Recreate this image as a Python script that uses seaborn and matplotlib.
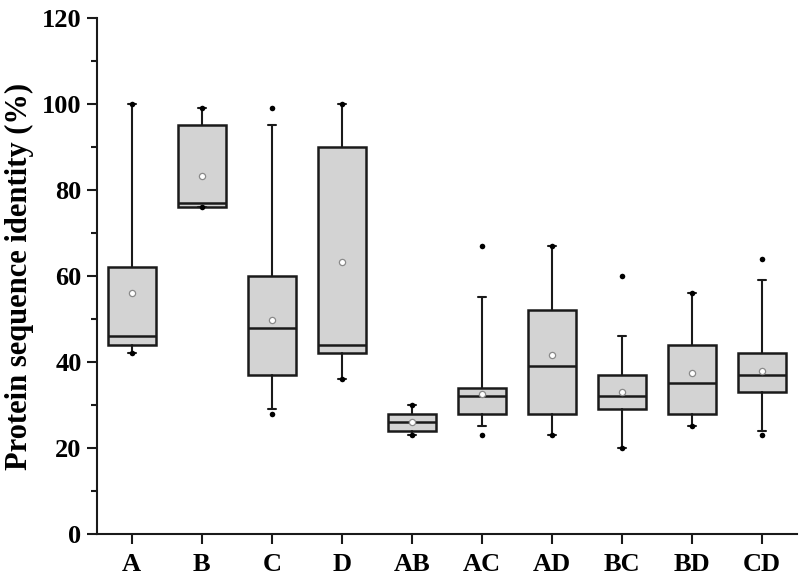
import matplotlib
matplotlib.use("Agg")
import matplotlib.pyplot as plt
import seaborn as sns
import pandas as pd
import numpy as np
from matplotlib.ticker import MultipleLocator

categories = ["A", "B", "C", "D", "AB", "AC", "AD", "BC", "BD", "CD"]
q1 = [44, 76, 37, 42, 24, 28, 28, 29, 28, 33]
median = [46, 77, 48, 44, 26, 32, 39, 32, 35, 37]
q3 = [62, 95, 60, 90, 28, 34, 52, 37, 44, 42]
whisker_low = [42, 76, 29, 36, 23, 25, 23, 20, 25, 24]
whisker_high = [100, 99, 95, 100, 30, 55, 67, 46, 56, 59]
minimum = [42, 76, 28, 36, 23, 23, 23, 20, 25, 23]
maximum = [100, 99, 99, 100, 30, 67, 67, 60, 56, 64]
mean = [56, 83.2, 49.7, 63.3, 26, 32.6, 41.6, 32.9, 37.4, 37.8]

sns.set_theme(style="ticks")
plt.rcParams["font.family"] = ["Liberation Serif", "DejaVu Serif"]
plt.rcParams["font.weight"] = "bold"
plt.rcParams["text.color"] = "black"
plt.rcParams["axes.labelcolor"] = "black"
plt.rcParams["xtick.color"] = "black"
plt.rcParams["ytick.color"] = "black"

fig = plt.figure(figsize=(8, 5.81), dpi=100)
ax = fig.add_axes([0.121, 0.081, 0.875, 0.888])

pos = np.arange(len(categories))
stats = []
for i, c in enumerate(categories):
    stats.append(dict(label=c, q1=q1[i], med=median[i], q3=q3[i],
                      whislo=whisker_low[i], whishi=whisker_high[i], fliers=[]))

edge = "#1a1a1a"
ax.bxp(stats, positions=pos, widths=0.68, patch_artist=True, showfliers=False,
       capwidths=0.11,
       boxprops=dict(facecolor="#d3d3d3", edgecolor=edge, linewidth=1.8),
       medianprops=dict(color=edge, linewidth=1.8),
       whiskerprops=dict(color=edge, linewidth=1.5),
       capprops=dict(color=edge, linewidth=1.5))

ext = pd.DataFrame({"pos": np.concatenate([pos, pos]),
                    "value": minimum + maximum})
sns.scatterplot(data=ext, x="pos", y="value", ax=ax, color="black", s=16,
                edgecolor="black", linewidth=0, zorder=5)
mdf = pd.DataFrame({"pos": pos, "mean": mean})
sns.scatterplot(data=mdf, x="pos", y="mean", ax=ax, color="white", s=20,
                edgecolor="#8a8a8a", linewidth=0.9, zorder=5)

ax.set_xlim(-0.5, len(categories) - 0.5)
ax.set_ylim(0, 120)
ax.yaxis.set_major_locator(MultipleLocator(20))
ax.yaxis.set_minor_locator(MultipleLocator(10))
ax.set_xticks(pos)
ax.set_xticklabels(categories)
ax.set_xlabel("")
ax.set_ylabel("Protein sequence identity (%)", fontsize=22, fontweight="bold",
              labelpad=6, color="black")
ax.tick_params(axis="both", which="major", labelsize=19, width=1.5, length=7,
               color="#1a1a1a", labelcolor="black")
ax.tick_params(axis="y", which="minor", width=1.5, length=4, color="#1a1a1a")
ax.tick_params(axis="x", pad=7)
ax.tick_params(axis="y", pad=4)
for lab in ax.get_xticklabels() + ax.get_yticklabels():
    lab.set_fontweight("bold")
for s in ["top", "right"]:
    ax.spines[s].set_visible(False)
for s in ["left", "bottom"]:
    ax.spines[s].set_linewidth(1.5)
    ax.spines[s].set_color("#1a1a1a")

fig.savefig("out.png", dpi=100)
